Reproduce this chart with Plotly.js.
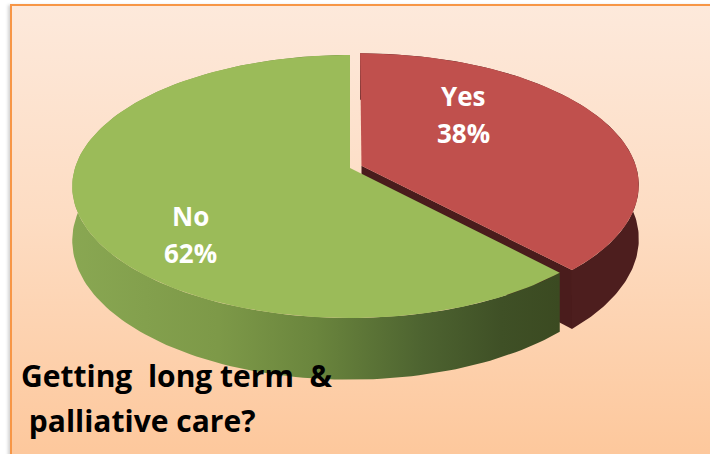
<!DOCTYPE html>
<html><head><meta charset="utf-8">
<script src="https://cdn.plot.ly/plotly-3.0.1.min.js"></script>
<style>
html,body{margin:0;padding:0;background:#ffffff;overflow:hidden;width:710px;height:454px;}
#frame{position:absolute;left:10px;top:4px;width:730px;height:480px;border:2px solid #f79646;
 background:linear-gradient(to bottom,#fde9db 0%,#fddcc2 45%,#fdc597 100%);
 box-shadow:-2px 1px 3px rgba(0,0,0,0.18);}
#chart{position:absolute;left:0;top:0;width:710px;height:454px;}
</style></head><body>
<div id="frame"></div><div id="chart"></div>
<script>
// ---- data ----
const categories = ['Yes', 'No'];
const values = [38, 62];
const chartTitleLines = ['Getting\u00a0\u00a0long term\u00a0\u00a0&', '\u00a0palliative care?'];

// ---- style ----
const topColors = ['#C0504D', '#9BBB59'];
const wallColors = ['#4d1e1e', null];
const cutColors = ['#4a1c1c', '#3e4f24'];
const greenWallScale = [[0,'#89a752'],[0.3,'#7d9948'],[0.5,'#6a853d'],[0.72,'#4d6330'],[0.88,'#3f5026'],[1,'#3b4a21']];
const pulls = [0.045, 0];
const geo = {cx: 350, cy: 168, A: 275, B: 128.9, k: 0.1406, depth: 53};
const labelPos = [[463, 96, 133], [190, 216, 253]];

function proj(X, V, h) {
  const s = 1 / (1 + geo.k * V);
  return [geo.cx + geo.A * X * s, geo.cy - geo.B * V * s + h * s];
}

const total = values.reduce((a, b) => a + b, 0);
const slices = [];
let acc = 0;
values.forEach((v, i) => {
  const t0 = acc / total * 2 * Math.PI;
  acc += v;
  const t1 = acc / total * 2 * Math.PI;
  const mid = (t0 + t1) / 2;
  slices.push({t0, t1, ox: pulls[i] * Math.sin(mid), ov: pulls[i] * Math.cos(mid)});
});

function rim(sl, t, h) { return proj(Math.sin(t) + sl.ox, Math.cos(t) + sl.ov, h); }
function arc(sl, a, b, h, n) {
  const pts = [];
  for (let j = 0; j <= n; j++) { const t = a + (b - a) * j / n; pts.push(rim(sl, t, h)); }
  return pts;
}
function poly(pts, extra) {
  const xs = pts.map(p => p[0]), ys = pts.map(p => p[1]);
  xs.push(xs[0]); ys.push(ys[0]);
  return Object.assign({type: 'scatter', mode: 'lines', x: xs, y: ys, fill: 'toself',
    line: {width: 0}, hoverinfo: 'skip', showlegend: false}, extra);
}

const traces = [];
function topFace(i) {
  const sl = slices[i];
  const apex = proj(sl.ox, sl.ov, 0);
  traces.push(poly([apex].concat(arc(sl, sl.t0, sl.t1, 0, 160)), {fillcolor: topColors[i]}));
}
function wall(i, extra) {
  const sl = slices[i];
  const pts = arc(sl, sl.t0, sl.t1, 0, 160).concat(arc(sl, sl.t1, sl.t0, geo.depth, 160));
  traces.push(poly(pts, extra));
}
function cutFace(i, atEnd) {
  const sl = slices[i];
  const t = atEnd ? sl.t1 : sl.t0;
  const pts = [proj(sl.ox, sl.ov, 0), rim(sl, t, 0), rim(sl, t, geo.depth), proj(sl.ox, sl.ov, geo.depth)];
  traces.push(poly(pts, {fillcolor: cutColors[i]}));
}

// exploded slice (Yes) behind, then the front slice (No)
cutFace(0, true);
wall(0, {fillcolor: wallColors[0]});
topFace(0);
wall(1, {fillgradient: {type: 'horizontal', colorscale: greenWallScale}});
topFace(1);

const annotations = [];
categories.forEach((c, i) => {
  const pct = Math.round(values[i] / total * 100) + '%';
  const f = {family: 'Open Sans, sans-serif', size: 26, color: '#ffffff', weight: 'bold'};
  annotations.push({xref: 'x', yref: 'y', x: labelPos[i][0], y: labelPos[i][1], text: '<b>' + c + '</b>',
    showarrow: false, font: f, xanchor: 'center', yanchor: 'middle', borderpad: 0});
  annotations.push({xref: 'x', yref: 'y', x: labelPos[i][0], y: labelPos[i][2], text: '<b>' + pct + '</b>',
    showarrow: false, font: f, xanchor: 'center', yanchor: 'middle', borderpad: 0});
});
const tf = {family: 'Open Sans, sans-serif', size: 30, color: '#000000'};
annotations.push({xref: 'x', yref: 'y', x: 20, y: 375, text: '<b>' + chartTitleLines[0] + '</b>',
  showarrow: false, font: tf, xanchor: 'left', yanchor: 'middle', borderpad: 0});
annotations.push({xref: 'x', yref: 'y', x: 20, y: 420, text: '<b>' + chartTitleLines[1] + '</b>',
  showarrow: false, font: tf, xanchor: 'left', yanchor: 'middle', borderpad: 0});

const layout = {
  width: 710, height: 454,
  margin: {l: 0, r: 0, t: 0, b: 0},
  paper_bgcolor: 'rgba(0,0,0,0)', plot_bgcolor: 'rgba(0,0,0,0)',
  xaxis: {range: [0, 710], visible: false, fixedrange: true},
  yaxis: {range: [454, 0], visible: false, fixedrange: true},
  showlegend: false,
  annotations: annotations
};
Plotly.newPlot('chart', traces, layout, {staticPlot: true, displayModeBar: false});
</script>
</body></html>
